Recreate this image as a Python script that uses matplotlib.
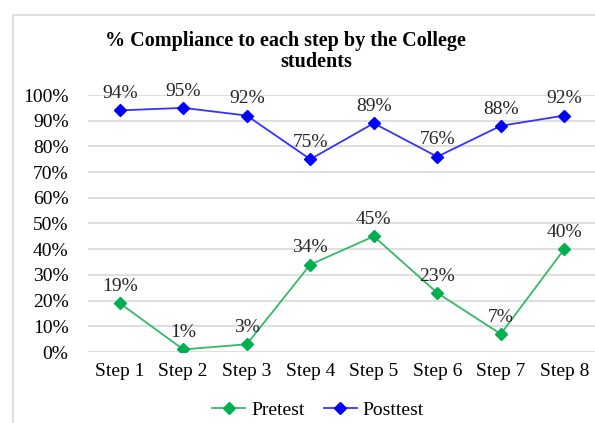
import matplotlib.pyplot as plt
from matplotlib.patches import Rectangle

steps = ['Step 1', 'Step 2', 'Step 3', 'Step 4', 'Step 5', 'Step 6', 'Step 7', 'Step 8']
pretest = [19, 1, 3, 34, 45, 23, 7, 40]
posttest = [94, 95, 92, 75, 89, 76, 88, 92]
y_ticks = [0, 10, 20, 30, 40, 50, 60, 70, 80, 90, 100]

plt.rcParams['font.family'] = ['Liberation Serif', 'DejaVu Serif']

fig = plt.figure(figsize=(5.95, 4.23), dpi=100)
ax = fig.add_axes([88 / 595, 1 - 352 / 423, 508 / 595, 257 / 423])

# chart border (left/top visible in reference)
fig.patches.append(Rectangle((13 / 595, -0.1), 1.2, 1 - 15 / 423 + 0.1,
                             transform=fig.transFigure, fill=False,
                             edgecolor='#d9d9d9', linewidth=1.2))

x = list(range(len(steps)))
ax.plot(x, pretest, color='#33bb66', linewidth=1.3, marker='D', markersize=6,
        markerfacecolor='#00b050', markeredgecolor='#00b050', label='Pretest')
ax.plot(x, posttest, color='#3333ff', linewidth=1.3, marker='D', markersize=6,
        markerfacecolor='#0000ff', markeredgecolor='#0000ff', label='Posttest')

for xi, v in zip(x, pretest):
    ax.annotate(f'{v}%', (xi, v), xytext=(0, 6), textcoords='offset points',
                ha='center', va='bottom', fontsize=14, color='#262626')
for xi, v in zip(x, posttest):
    ax.annotate(f'{v}%', (xi, v), xytext=(0, 6), textcoords='offset points',
                ha='center', va='bottom', fontsize=14, color='#262626')

ax.set_xlim(-0.5, 7.5)
ax.set_ylim(0, 100)
ax.set_yticks(y_ticks)
ax.set_yticklabels([f'{t}%' for t in y_ticks], fontsize=14)
ax.set_xticks(x)
ax.set_xticklabels(steps, fontsize=14)
ax.tick_params(axis='y', length=0, pad=14, colors='#000000')
ax.tick_params(axis='x', length=0, pad=8, colors='#000000')
ax.yaxis.grid(True, color='#d9d9d9', linewidth=1.2)
ax.set_axisbelow(True)
for s in ax.spines.values():
    s.set_visible(False)

fig.text(285 / 595, 1 - 41 / 423, '% Compliance to each step by the College',
         ha='center', va='center', fontsize=14.5, fontweight='bold')
fig.text(316 / 595, 1 - 62 / 423, 'students',
         ha='center', va='center', fontsize=14.5, fontweight='bold')

fig.legend(loc='center', bbox_to_anchor=(318 / 595, 1 - 410 / 423), ncol=2,
           frameon=False, fontsize=14, handlelength=1.7, columnspacing=1.0,
           handletextpad=0.3)

fig.savefig('out.png', dpi=100)
